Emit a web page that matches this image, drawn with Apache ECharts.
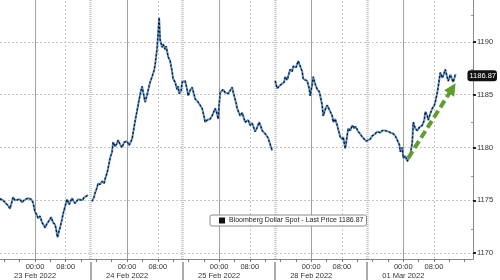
<!DOCTYPE html>
<html><head><meta charset="utf-8">
<script src="https://cdn.jsdelivr.net/npm/echarts@6/dist/echarts.min.js"></script>
<style>html,body{margin:0;padding:0;background:#fff}#c{width:500px;height:280px}</style>
</head><body><div id="c"></div>
<script>
// trading-time hours from 23 Feb 2022 00:00 (weekend removed)
const times = [-9.13,-8.35,-7.83,-7.04,-6.52,-6.0,-5.74,-5.22,-4.70,-3.91,-3.39,-2.87,-2.35,-1.83,-1.04,-0.52,
0,0.52,0.78,1.30,1.83,2.35,2.61,3.13,3.39,3.91,4.17,4.70,5.22,5.48,5.87,6.26,6.52,7.04,7.30,7.83,8.35,8.87,9.13,9.65,9.91,10.43,10.70,11.22,11.74,12.26,12.78,13.30,13.83,
14.3,
14.87,15.39,15.65,16.17,16.43,16.96,17.48,18.0,18.26,18.78,19.04,19.57,20.09,20.35,20.87,21.39,21.65,22.17,22.70,23.22,
24.0,24.52,25.30,26.09,26.87,27.39,27.91,28.43,28.70,29.22,29.48,30.0,30.52,31.04,31.30,31.83,32.09,32.35,32.61,33.13,33.39,33.91,34.17,34.70,35.22,35.74,36.0,36.52,37.04,37.30,37.57,38.09,38.35,39.13,39.65,39.91,40.43,40.96,41.48,41.74,42.52,43.04,43.57,44.09,44.35,44.87,45.65,46.17,46.96,47.48,47.74,
48.0,48.26,49.04,49.57,50.35,50.87,51.39,51.91,52.43,52.70,53.48,54.0,54.78,55.57,56.09,56.61,57.39,57.91,58.43,58.96,59.22,60.0,60.78,61.30,61.83,
62.2,
62.61,63.13,63.39,63.91,64.43,64.96,65.22,65.74,66.52,67.04,67.30,68.09,68.61,69.13,69.65,69.91,70.43,70.96,71.48,71.74,
72.26,72.52,73.04,73.57,74.09,74.35,74.87,75.13,75.65,76.17,76.70,76.96,77.48,77.74,78.26,78.78,79.57,80.09,80.35,80.87,81.13,81.65,82.17,82.70,83.22,83.48,84.0,84.26,84.78,85.30,85.83,86.35,86.87,87.39,87.91,88.70,89.22,90.0,90.52,91.30,92.09,92.61,93.39,93.91,94.43,94.96,95.22,95.74,
96.0,96.52,97.04,97.30,97.83,98.35,98.61,99.13,99.65,100.17,100.96,101.48,101.74,102.26,102.52,103.04,103.57,104.09,104.35,104.87,105.13,105.65,106.17,106.43,106.96,107.48,107.74,108.26,108.78,109.04,109.57,109.83];
const prices = [1175.15,1175.0,1174.8,1174.5,1174.2,1174.9,1175.3,1175.0,1174.95,1175.1,1174.8,1175.0,1174.9,1175.2,1175.1,1174.8,
1173.9,1173.6,1173.3,1173.5,1172.9,1172.6,1172.4,1172.8,1172.9,1173.2,1173.4,1172.9,1172.7,1172.3,1171.5,1172.1,1172.4,1173.2,1173.7,1174.4,1175.1,1174.6,1174.8,1175.2,1175.0,1174.7,1174.8,1175.1,1175.25,1175.0,1175.25,1175.3,1175.5,
null,
1174.9,1175.3,1175.7,1176.2,1176.6,1176.5,1176.8,1176.6,1177.0,1177.6,1178.0,1179.0,1179.6,1180.5,1180.1,1180.4,1180.7,1180.3,1180.0,1180.5,
1180.6,1180.2,1180.8,1182.5,1184.0,1185.0,1185.8,1184.8,1184.3,1185.0,1185.4,1186.2,1186.7,1187.3,1187.8,1189.4,1190.8,1192.3,1190.2,1189.5,1189.8,1189.3,1189.6,1188.6,1188.2,1187.2,1186.5,1186.2,1185.5,1185.8,1185.1,1185.4,1186.2,1186.3,1185.5,1184.9,1185.4,1185.7,1185.0,1184.6,1184.3,1184.0,1183.7,1182.9,1182.4,1182.6,1182.7,1183.0,1183.7,1183.2,1182.7,
1184.0,1185.2,1185.5,1185.2,1185.1,1185.4,1185.7,1184.9,1184.2,1183.7,1183.0,1183.3,1182.4,1182.6,1182.1,1182.3,1181.5,1181.9,1182.4,1181.9,1181.6,1181.3,1180.9,1180.3,1179.7,
null,
1186.3,1185.6,1185.5,1185.9,1185.8,1186.2,1186.7,1186.4,1187.4,1187.2,1187.7,1187.6,1188.2,1187.7,1187.2,1186.5,1186.6,1186.3,1185.6,1184.9,
1186.0,1186.7,1186.0,1185.5,1185.3,1184.9,1184.0,1183.0,1183.6,1184.0,1183.6,1183.4,1183.0,1182.4,1182.7,1182.1,1181.0,1180.8,1181.0,1179.9,1180.5,1181.8,1181.6,1182.1,1181.8,1182.0,1181.7,1181.5,1181.3,1181.0,1180.8,1180.6,1180.6,1180.8,1181.1,1181.3,1181.5,1181.4,1181.6,1181.6,1181.5,1181.4,1181.3,1181.1,1181.0,1180.3,1179.6,1180.0,
1179.0,1179.2,1178.7,1178.9,1179.3,1180.5,1182.4,1181.8,1181.6,1181.9,1182.1,1182.6,1183.4,1183.0,1182.6,1183.2,1183.7,1184.0,1184.3,1185.2,1185.8,1187.1,1186.6,1186.8,1187.4,1186.6,1186.3,1186.9,1186.4,1186.2,1186.9,1186.87];

const seriesName = 'Bloomberg Dollar Spot - Last Price 1186.87';
const lastPrice = 1186.87;
const priceTicks = [1170, 1175, 1180, 1185, 1190];
const minorPriceTicks = [1172.5, 1177.5, 1182.5, 1187.5, 1192.5];
const midnights = [0, 24, 48, 72, 96];
const eightAMs = [8, 32, 56, 80, 104];
const sessionBreaks = [14.5, 38.5, 62.5, 86.5];
const dayLabels = ['23 Feb 2022', '24 Feb 2022', '25 Feb 2022', '28 Feb 2022', '01 Mar 2022'];
const xTickValues = [-8,-4,0,4,8,12,16,20,24,28,32,36,40,44,48,52,56,60,64,68,72,76,80,84,88,92,96,100,104,108,112];
const arrowFrom = [97.3, 1179.0];
const arrowTo = [108.8, 1185.6];

const data = times.map((t, i) => [t, prices[i]]);
const FONT = 'Liberation Sans';
const Y_MIN = 1169.44, Y_MAX = 1193.97, X_MIN = -9.13, X_MAX = 114.18;
const G = {left: 0, right: 27, top: 0, bottom: 18};

const gridLines = [];
priceTicks.forEach(v => gridLines.push({yAxis: v, lineStyle: {color: '#c4c4c4', type: [2, 2], width: 1}}));
midnights.forEach(v => gridLines.push({xAxis: v, lineStyle: {color: '#a0a0a0', type: 'solid', width: 1}}));
eightAMs.forEach(v => gridLines.push({xAxis: v, lineStyle: {color: '#c8c8c8', type: [2, 2], width: 1}}));
sessionBreaks.forEach(v => gridLines.push({xAxis: v, lineStyle: {color: '#c4c4c4', type: [1, 1], width: 2.5}}));

function hiddenX(grid, tickVals, len, style) {
  return {type: 'value', gridIndex: grid, min: X_MIN, max: X_MAX, position: 'bottom',
    axisLine: {show: false, onZero: false},
    axisTick: tickVals ? {show: true, customValues: tickVals, length: len, lineStyle: style} : {show: false},
    axisLabel: {show: false}, splitLine: {show: false}};
}

const chart = echarts.init(document.getElementById('c'), null, {renderer: 'canvas'});
chart.setOption({
  animation: false,
  backgroundColor: '#fff',
  grid: [Object.assign({}, G), Object.assign({}, G), Object.assign({}, G)],
  legend: {
    left: 210, top: 215, padding: [2, 3, 2, 9],
    data: [{name: seriesName, icon: 'rect', itemStyle: {color: '#111'}}],
    itemWidth: 6, itemHeight: 6, itemGap: 3,
    borderColor: '#8a8a8a', borderWidth: 1, borderRadius: 2, backgroundColor: '#fff',
    textStyle: {fontFamily: FONT, fontSize: 7, color: '#222', padding: [0, 0, 0, -1]}
  },
  xAxis: [{
    type: 'value', gridIndex: 0, min: X_MIN, max: X_MAX,
    axisLine: {show: true, onZero: false, lineStyle: {color: '#888', width: 1}},
    axisTick: {show: true, customValues: xTickValues, length: 3, lineStyle: {color: '#777'}},
    splitLine: {show: false},
    axisLabel: {
      customValues: [0, 8, 24, 32, 48, 56, 72, 80, 96, 104],
      margin: 3, fontFamily: FONT, fontSize: 7.5, color: '#333', lineHeight: 9,
      formatter: function (v) {
        const r = Math.round(v);
        if (r % 24 === 0) return '00:00\n' + dayLabels[r / 24];
        return '08:00';
      }
    }
  },
  hiddenX(1, sessionBreaks, 18, {color: '#aaa', width: 2}),
  hiddenX(2, null)],
  yAxis: [{
    type: 'value', gridIndex: 0, position: 'right', min: Y_MIN, max: Y_MAX,
    axisLine: {show: true, onZero: false, lineStyle: {color: '#888'}},
    axisTick: {show: true, customValues: priceTicks, length: 3, lineStyle: {color: '#222', width: 2}},
    splitLine: {show: false},
    axisLabel: {customValues: priceTicks, margin: 4, fontFamily: FONT, fontSize: 7.5, color: '#333',
      formatter: v => String(Math.round(v))}
  }, {
    type: 'value', gridIndex: 1, position: 'right', min: Y_MIN, max: Y_MAX,
    axisLine: {show: false, onZero: false},
    axisTick: {show: true, customValues: minorPriceTicks, inside: true, length: 2, lineStyle: {color: '#999', width: 1}},
    splitLine: {show: false},
    axisLabel: {show: false}
  }, {
    type: 'value', gridIndex: 2, position: 'right', min: Y_MIN, max: Y_MAX,
    axisLine: {show: false, onZero: false}, axisTick: {show: false}, splitLine: {show: false},
    axisLabel: {customValues: [lastPrice], margin: 4, fontFamily: FONT, fontSize: 7.5, color: '#fff',
      backgroundColor: '#111', borderRadius: 3, padding: [2, 1, 1, 2],
      formatter: v => v.toFixed(2)}
  }],
  series: [{
    name: seriesName, type: 'line', data: data, showSymbol: false, connectNulls: false,
    xAxisIndex: 0, yAxisIndex: 0,
    lineStyle: {color: '#5b8fc8', width: 2.0}, itemStyle: {color: '#111'},
    z: 3,
    markLine: {silent: true, symbol: 'none', label: {show: false}, data: gridLines, z: 1, animation: false}
  }, {
    name: 'core', type: 'line', data: data, showSymbol: false, connectNulls: false,
    xAxisIndex: 0, yAxisIndex: 0,
    lineStyle: {color: '#0b1320', width: 1.2, type: [2, 2]},
    z: 4
  }, {
    name: 'arrow', type: 'line', data: [], z: 5, xAxisIndex: 0, yAxisIndex: 0,
    markLine: {
      silent: true, animation: false, symbol: ['none', 'triangle'], symbolSize: [12, 12],
      label: {show: false},
      lineStyle: {color: '#5f9e2d', width: 4, type: [8, 4], opacity: 1},
      data: [[{coord: arrowFrom}, {coord: arrowTo}]]
    }
  }]
});
</script></body></html>
